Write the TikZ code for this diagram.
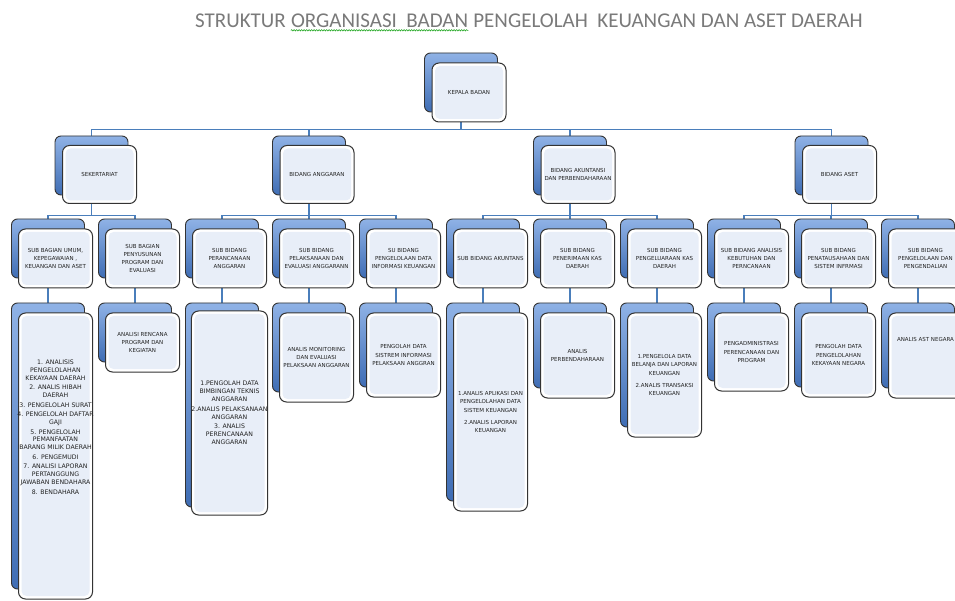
\documentclass[tikz,border=0pt]{standalone}
\usepackage{fontspec}
\setmainfont{DejaVu Sans}
\newfontfamily\titelfont{Carlito}
\usetikzlibrary{positioning,backgrounds,decorations.pathmorphing}
\definecolor{linkblue}{HTML}{4A7EBB}
\definecolor{biruatas}{HTML}{8FB2E6}
\definecolor{birubawah}{HTML}{3F6DB4}
\definecolor{isibiru}{HTML}{E8EEF8}
\definecolor{garis}{HTML}{333333}
\definecolor{teks}{HTML}{222222}
\definecolor{abu}{HTML}{7A7A7A}
\newcommand{\kotakfont}{\fontsize{5.5}{8.3}\selectfont}
\newcommand{\besarfont}{\fontsize{6.2}{7.9}\selectfont}
\tikzset{
  belakang/.style={rectangle, rounded corners=6pt, draw=garis, line width=0.9pt,
    top color=biruatas, bottom color=birubawah, minimum width=73pt, inner sep=0pt},
  depan/.style={rectangle, rounded corners=7pt, draw=garis, line width=1pt, fill=white,
    minimum width=74pt, align=center, inner sep=0pt, text=teks,
    font=\kotakfont,
    path picture={\fill[isibiru, rounded corners=5pt]
      ([xshift=3pt,yshift=-3pt]path picture bounding box.north west) rectangle
      ([xshift=-3pt,yshift=3pt]path picture bounding box.south east);}},
  link/.style={draw=linkblue, line width=1.3pt},
  judul/.style={font=\titelfont\fontsize{21}{24}\selectfont, text=abu, inner sep=0pt, anchor=base west},
}

\begin{document}
\begin{tikzpicture}[x=1pt,y=-1pt]
\useasboundingbox (0,0) rectangle (955,601);

% judul
\node[judul] (t1) at (195,28) {STRUKTUR};
\node[judul] (t2) at ([xshift=4.8pt]t1.base east) {ORGANISASI\ \ BADAN};
\node[judul] (t3) at ([xshift=4.8pt]t2.base east) {PENGELOLAH\ \ KEUANGAN DAN ASET DAERAH};
\draw[green!60!black, line width=0.5pt, decorate, decoration={snake, amplitude=0.7pt, segment length=2.5pt}]
  ([yshift=-2pt]t2.south west) -- ([yshift=-2pt]t2.south east);

% kotak belakang
\node[belakang, minimum height=59pt] (kepalab) at (461,82.5) {};
\node[belakang, minimum height=59pt] (sekb) at (91.5,165.5) {};
\node[belakang, minimum height=59pt] (angb) at (309,165.5) {};
\node[belakang, minimum height=59pt] (aktb) at (570,165.5) {};
\node[belakang, minimum height=59pt] (asetb) at (831.5,165.5) {};

\node[belakang, minimum height=59pt] (subumumb) at (48,248.5) {};
\node[belakang, minimum height=59pt] (subprogb) at (135,248.5) {};
\node[belakang, minimum height=59pt] (subrencb) at (222,248.5) {};
\node[belakang, minimum height=59pt] (sublaksb) at (309,248.5) {};
\node[belakang, minimum height=59pt] (subdatab) at (396,248.5) {};
\node[belakang, minimum height=59pt] (subakunb) at (483,248.5) {};
\node[belakang, minimum height=59pt] (subterimab) at (570,248.5) {};
\node[belakang, minimum height=59pt] (subkeluarb) at (657,248.5) {};
\node[belakang, minimum height=59pt] (subanalisb) at (744,248.5) {};
\node[belakang, minimum height=59pt] (subtatab) at (831,248.5) {};
\node[belakang, minimum height=59pt] (subkelolab) at (918,248.5) {};

\node[belakang, minimum height=286pt] (jumumb) at (48,446) {};
\node[belakang, minimum height=59pt] (jprogb) at (135,332.5) {};
\node[belakang, minimum height=204pt] (jrencb) at (222,405) {};
\node[belakang, minimum height=89pt] (jlaksb) at (309,347.5) {};
\node[belakang, minimum height=84pt] (jdatab) at (396,345) {};
\node[belakang, minimum height=198pt] (jakunb) at (483,402) {};
\node[belakang, minimum height=85pt] (jterimab) at (570,345.5) {};
\node[belakang, minimum height=124pt] (jkeluarb) at (657,365) {};
\node[belakang, minimum height=78pt] (janalisb) at (744,342) {};
\node[belakang, minimum height=84pt] (jtatab) at (831,345) {};
\node[belakang, minimum height=85pt] (jkelolab) at (918,345.5) {};

% garis penghubung
\begin{pgfonlayer}{background}
\fill[white] (0,0) rectangle (955,601);
\draw[link] (kepalab.south) -- ++(0,17) -| (sekb.north);
\draw[link] (kepalab.south) -- ++(0,17) -| (angb.north);
\draw[link] (kepalab.south) -- ++(0,17) -| (aktb.north);
\draw[link] (kepalab.south) -- ++(0,17) -| (asetb.north);
\draw[link] (sekb.south) -- ++(0,20) -| (subumumb.north);
\draw[link] (sekb.south) -- ++(0,20) -| (subprogb.north);
\draw[link] (angb.south) -- ++(0,20) -| (subrencb.north);
\draw[link] (angb.south) -- ++(0,20) -| (sublaksb.north);
\draw[link] (angb.south) -- ++(0,20) -| (subdatab.north);
\draw[link] (aktb.south) -- ++(0,20) -| (subakunb.north);
\draw[link] (aktb.south) -- ++(0,20) -| (subterimab.north);
\draw[link] (aktb.south) -- ++(0,20) -| (subkeluarb.north);
\draw[link] (asetb.south) -- ++(0,20) -| (subanalisb.north);
\draw[link] (asetb.south) -- ++(0,20) -| (subtatab.north);
\draw[link] (asetb.south) -- ++(0,20) -| (subkelolab.north);
\draw[link] (subumumb.south) -- (jumumb.north);
\draw[link] (subprogb.south) -- (jprogb.north);
\draw[link] (subrencb.south) -- (jrencb.north);
\draw[link] (sublaksb.south) -- (jlaksb.north);
\draw[link] (subdatab.south) -- (jdatab.north);
\draw[link] (subakunb.south) -- (jakunb.north);
\draw[link] (subterimab.south) -- (jterimab.north);
\draw[link] (subkeluarb.south) -- (jkeluarb.north);
\draw[link] (subanalisb.south) -- (janalisb.north);
\draw[link] (subtatab.south) -- (jtatab.north);
\draw[link] (subkelolab.south) -- (jkelolab.north);
\end{pgfonlayer}

% kotak depan
\node[depan, minimum height=59pt] (kepala) at (469,92.5) {KEPALA BADAN};
\node[depan, minimum height=58pt] (sek) at (99.5,174.5) {SEKERTARIAT};
\node[depan, minimum height=58pt] (ang) at (317,174.5) {BIDANG ANGGARAN};
\node[depan, minimum height=58pt] (akt) at (578,174.5) {BIDANG AKUNTANSI\\DAN PERBENDAHARAAN};
\node[depan, minimum height=58pt] (aset) at (839.5,174.5) {BIDANG ASET};

\node[depan, minimum height=59pt] (subumum) at (55.5,258.5) {SUB BAGIAN UMUM,\\KEPEGAWAIAN ,\\KEUANGAN DAN ASET};
\node[depan, minimum height=59pt] (subprog) at (142.5,258.5) {SUB BAGIAN\\PENYUSUNAN\\PROGRAM DAN\\EVALUASI};
\node[depan, minimum height=59pt] (subrenc) at (229.5,258.5) {SUB BIDANG\\PERANCANAAN\\ANGGARAN};
\node[depan, minimum height=59pt] (sublaks) at (316.5,258.5) {SUB BIDANG\\PELAKSANAAN DAN\\EVALUASI ANGGARANN};
\node[depan, minimum height=59pt] (subdata) at (403.5,258.5) {SU BIDANG\\PENGELOLAAN DATA\\INFORMASI KEUANGAN};
\node[depan, minimum height=59pt] (subakun) at (490.5,258.5) {SUB BIDANG AKUNTANS};
\node[depan, minimum height=59pt] (subterima) at (577.5,258.5) {SUB BIDANG\\PENERIMAAN KAS\\DAERAH};
\node[depan, minimum height=59pt] (subkeluar) at (664.5,258.5) {SUB BIDANG\\PENGELUARAAN KAS\\DAERAH};
\node[depan, minimum height=59pt] (subanalis) at (751.5,258.5) {SUB BIDANG ANALISIS\\KEBUTUHAN DAN\\PERNCANAAN};
\node[depan, minimum height=59pt] (subtata) at (838.5,258.5) {SUB BIDANG\\PENATAUSAHAAN DAN\\SISTEM INFRMASI};
\node[depan, minimum height=59pt] (subkelola) at (925.5,258.5) {SUB BIDANG\\PENGELOLAAN DAN\\PENGENDALIAN};

\node[depan, minimum height=286pt] (jumum) at (55.5,456) {};
\node[font=\besarfont, text=teks, align=center, inner sep=0pt] (jumumteks) at (55.5,427)
  {1. ANALISIS\\PENGELOLAHAN\\KEKAYAAN DAERAH\\[1.6pt] 2. ANALIS HIBAH\\DAERAH\\[1.6pt] 3. PENGELOLAH SURAT\\[1.6pt]
   4. PENGELOLAH DAFTAR\\GAJI\\[1.6pt] 5. PENGELOLAH\\PEMANFAATAN\\BARANG MILIK DAERAH\\[1.6pt] 6. PENGEMUDI\\[1.6pt]
   7. ANALISI LAPORAN\\PERTANGGUNG\\JAWABAN BENDAHARA\\[1.6pt] 8. BENDAHARA};
\node[depan, minimum height=59pt] (jprog) at (142.5,342.5) {ANALISI RENCANA\\PROGRAM DAN\\KEGIATAN};
\node[depan, minimum height=204pt, font=\besarfont] (jrenc) at (229.5,413)
  {1.PENGOLAH DATA\\BIMBINGAN TEKNIS\\ANGGARAN\\[1.7pt] 2.ANALIS PELAKSANAAN\\ANGGARAN\\[1.7pt] 3. ANALIS\\PERENCANAAN\\ANGGARAN};
\node[depan, minimum height=89pt] (jlaks) at (316.5,357.5) {ANALIS MONITORING\\DAN EVALUASI\\PELAKSAAN ANGGARAN};
\node[depan, minimum height=84pt] (jdata) at (403.5,355) {PENGOLAH DATA\\SISTREM INFORMASI\\PELAKSAAN ANGGRAN};
\node[depan, minimum height=198pt] (jakun) at (490.5,412)
  {1.ANALIS APLIKASI DAN\\PENGELOLAHAN DATA\\SISTEM KEUANGAN\\[4pt] 2.ANALIS LAPORAN\\KEUANGAN};
\node[depan, minimum height=85pt] (jterima) at (577.5,355.5) {ANALIS\\PERBENDAHARAAN};
\node[depan, minimum height=124pt] (jkeluar) at (664.5,375)
  {1.PENGELOLA DATA\\BELANJA DAN LAPORAN\\KEUANGAN\\[4pt] 2.ANALIS TRANSAKSI\\KEUANGAN};
\node[depan, minimum height=78pt] (janalis) at (751.5,352) {PENGADMINISTRASI\\PERENCANAAN DAN\\PROGRAM};
\node[depan, minimum height=84pt] (jtata) at (838.5,355) {PENGOLAH DATA\\PENGELOLAHAN\\KEKAYAAN NEGARA};
\node[depan, minimum height=85pt] (jkelola) at (925.5,355.5) {};
\node[font=\kotakfont, text=teks, inner sep=0pt] (jkelolateks) at (925.5,339) {ANALIS AST NEGARA};
\end{tikzpicture}
\end{document}
